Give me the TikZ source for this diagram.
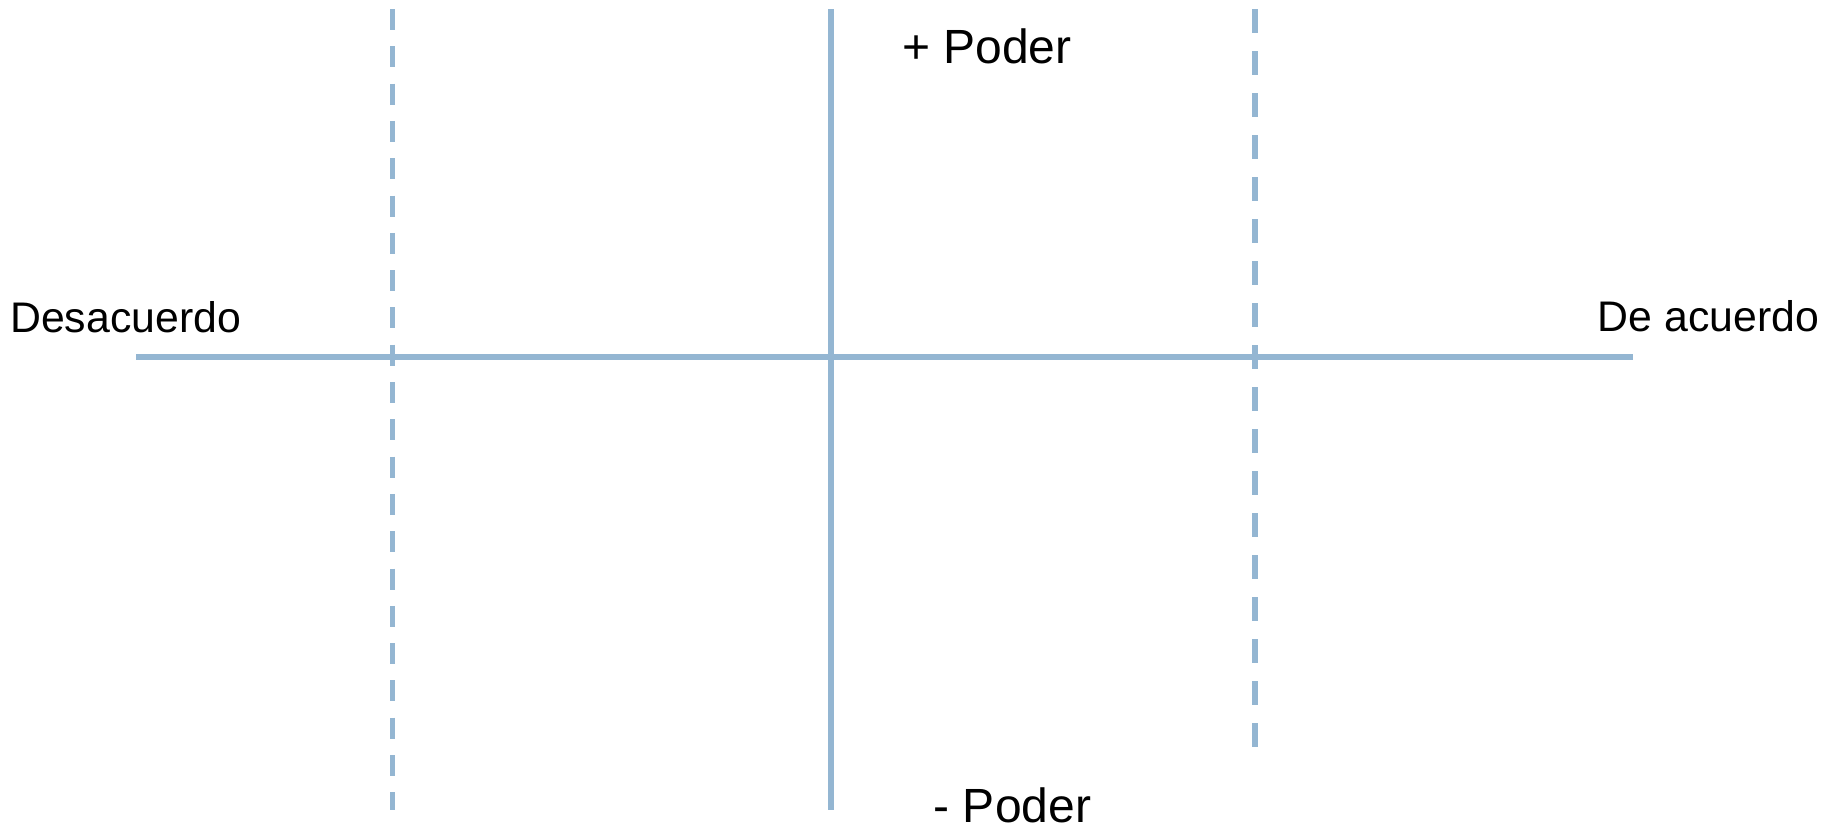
\documentclass[tikz,border=0pt]{standalone}
\usepackage{fontspec}
\setmainfont{Liberation Sans}
\definecolor{axisblue}{RGB}{148,182,210}
\begin{document}
\begin{tikzpicture}[x=1pt,y=-1pt,
  axis/.style={draw=axisblue,line width=5.3pt},
  leftdash/.style={draw=axisblue,line width=5pt,dash pattern=on 21pt off 16.3pt},
  rightdash/.style={draw=axisblue,line width=5.7pt,dash pattern=on 24pt off 18pt},
  lbl/.style={inner sep=0pt,anchor=base west,text=black},
  smalllbl/.style={lbl,font=\fontsize{42.8}{50}\selectfont},
  biglbl/.style={lbl,font=\fontsize{48}{56}\selectfont}]
\useasboundingbox (0,0) rectangle (1835,827);
\coordinate (hL) at (136,357);
\coordinate (hR) at (1633,357);
\coordinate (vT) at (831,9);
\coordinate (vB) at (831,810);
\coordinate (dlT) at (392.7,9);
\coordinate (dlB) at (392.7,810);
\coordinate (drT) at (1254.7,9);
\coordinate (drB) at (1254.7,747);
\draw[leftdash] (dlT) -- (dlB);
\draw[rightdash] (drT) -- (drB);
\draw[axis] (hL) -- (hR);
\draw[axis] (vT) -- (vB);
\node[smalllbl] (des) at (10,332) {Desacuerdo};
\node[smalllbl] (dea) at (1597.5,331) {De acuerdo};
\node[biglbl] (mas) at (902,63) {+ Poder};
\node[biglbl] (men) at (933.5,822) {- Poder};
\end{tikzpicture}
\end{document}
